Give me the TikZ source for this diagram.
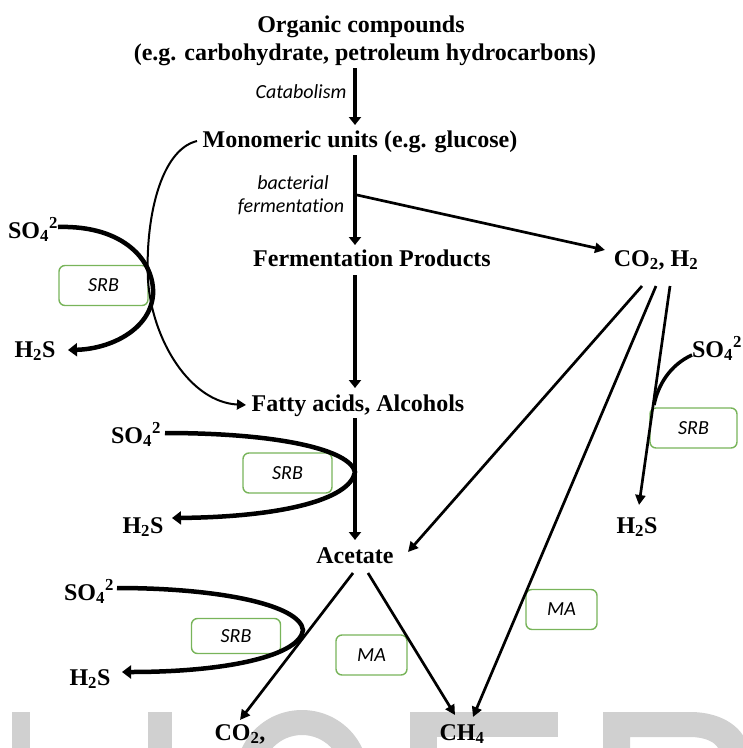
\documentclass[tikz,border=0pt]{standalone}
\usepackage{fontspec}
\setmainfont{Liberation Serif}
\newfontfamily\labfont[Ligatures=NoCommon]{Carlito}
\usetikzlibrary{arrows.meta}
\definecolor{srbgreen}{RGB}{120,180,90}
\definecolor{wmgray}{RGB}{208,208,208}
\tikzset{
  txt/.style={font=\fontsize{24}{26}\selectfont\bfseries, inner sep=0pt, anchor=base},
  lab/.style={font=\fontsize{20}{22}\selectfont\labfont\itshape, inner sep=0pt, anchor=base},
  tag/.style={draw=srbgreen, line width=1.4pt, rounded corners=6pt, minimum width=89pt, minimum height=40pt, font=\fontsize{20}{22}\selectfont\labfont\itshape, inner sep=0pt},
  matag/.style={tag, minimum width=71pt},
  mainarrow/.style={line width=4.5pt, -{Triangle[length=8pt,width=12pt]}},
  thinarrow/.style={line width=2.7pt, -{Triangle[length=10pt,width=10pt]}},
  sulfarrow/.style={line width=4.5pt, -{Triangle[length=9pt,width=13pt]}},
  wm/.style={fill=wmgray, draw=none},
}
\begin{document}
\begin{tikzpicture}[x=1pt,y=-1pt]
\useasboundingbox (0,0) rectangle (743,748);
\clip (0,0) rectangle (743,748);
% watermark
\fill[wm] (12,712) rectangle (30,748);
\fill[wm] (148,712) rectangle (172,748);
\fill[wm,even odd rule] (302,775) ellipse [x radius=66, y radius=65] (302,775) ellipse [x radius=40, y radius=40];
\fill[wm] (410,712) rectangle (558,737);
\fill[wm] (410,712) rectangle (437,748);
\fill[wm] (603,748) -- (603,712) -- (690,712) .. controls (725,712) and (745,730) .. (748,748) -- (718,748) .. controls (715,742) and (705,737) .. (690,737) -- (630,737) -- (630,748) -- cycle;

% text nodes
\node[txt] (org1) at (361,32) {Organic compounds};
\node[txt] (org2) at (365,60) {(e.g. carbohydrate, petroleum hydrocarbons)};
\node[lab] (catab) at (301,98) {Catabolism};
\node[txt] (mono) at (360,147) {Monomeric units (e.g. glucose)};
\node[lab] (bact) at (293,189) {bacterial};
\node[lab] (fermlab) at (291,212) {fermentation};
\node[txt] (ferm) at (372,266) {Fermentation Products};
\node[txt] (co2h2) at (656,266) {CO\textsubscript{2}, H\textsubscript{2}};
\node[txt] (fatty) at (358,411) {Fatty acids, Alcohols};
\node[txt] (acetate) at (355,563) {Acetate};
\node[txt] (co2b) at (240,740) {CO\textsubscript{2},};
\node[txt] (ch4) at (462,740) {CH\textsubscript{4}};
\node[txt] (so4a) at (33,238) {SO\textsubscript{4}\textsuperscript{2}};
\node[txt] (h2sa) at (35,357) {H\textsubscript{2}S};
\node[txt] (so4b) at (136,443) {SO\textsubscript{4}\textsuperscript{2}};
\node[txt] (h2sb) at (143,533) {H\textsubscript{2}S};
\node[txt] (so4c) at (89,600) {SO\textsubscript{4}\textsuperscript{2}};
\node[txt] (h2sc) at (90,685) {H\textsubscript{2}S};
\node[txt] (so4d) at (717,357) {SO\textsubscript{4}\textsuperscript{2}};
\node[txt] (h2sd) at (637,533) {H\textsubscript{2}S};

% boxes
\node[tag] (srb1) at (103.5,285.5) {SRB};
\node[tag] (srb2) at (287.5,473) {SRB};
\node[tag, minimum height=35pt] (srb3) at (236,636) {SRB};
\node[tag, minimum width=87pt] (srb4) at (693.5,428) {SRB};
\node[matag] (ma1) at (371.5,655) {MA};
\node[matag] (ma2) at (561.5,609.5) {MA};

% anchor coordinates
\coordinate (c1s) at (355,68);   \coordinate (c1e) at (355,125);
\coordinate (c2s) at (355,155);  \coordinate (c2e) at (355,245);
\coordinate (br) at (357,195);   \coordinate (co2in) at (605,250);
\coordinate (c3s) at (355,275);  \coordinate (c3e) at (355,388);
\coordinate (c4s) at (355,418);  \coordinate (c4e) at (355,540);
\coordinate (monoL) at (197,141); \coordinate (fattyL) at (246,405);
\coordinate (g1) at (642,286); \coordinate (g2) at (656,286); \coordinate (g3) at (670,286);
\coordinate (acIn) at (408,552); \coordinate (ch4inR) at (473,717); \coordinate (h2sdIn) at (639,505);
\coordinate (acL) at (353,573); \coordinate (acR) at (368,573);
\coordinate (co2bIn) at (240,720); \coordinate (ch4inL) at (455,715);
\coordinate (jn) at (654,405);

% main chain
\draw[mainarrow] (c1s) -- (c1e);
\draw[mainarrow] (c2s) -- (c2e);
\draw[mainarrow] (c3s) -- (c3e);
\draw[mainarrow] (c4s) -- (c4e);
\draw[thinarrow] (br) -- (co2in);

% big left curve
\draw[line width=2pt, -{Triangle[length=9pt,width=10pt]}] (monoL) .. controls (160,150) and (145,220) .. (148,280) .. controls (152,340) and (190,402) .. (fattyL);

% sulfate curves
\draw[sulfarrow] (58,227) .. controls (125,225) and (155,262) .. (153,295) .. controls (150,330) and (110,349) .. (68,350);
\draw[sulfarrow] (165,433) .. controls (280,433) and (350,450) .. (355,472) .. controls (350,500) and (280,517) .. (172,518);
\draw[sulfarrow] (117,588) .. controls (220,588) and (300,605) .. (303,630) .. controls (300,655) and (230,672) .. (122,672);
\draw[line width=3.5pt] (692,355) .. controls (670,365) and (658,385) .. (jn);

% from CO2, H2
\draw[thinarrow] (g1) -- (acIn);
\draw[thinarrow] (g2) -- (ch4inR);
\draw[thinarrow] (g3) -- (h2sdIn);

% from acetate
\draw[thinarrow] (acL) -- (co2bIn);
\draw[thinarrow] (acR) -- (ch4inL);
\end{tikzpicture}
\end{document}
